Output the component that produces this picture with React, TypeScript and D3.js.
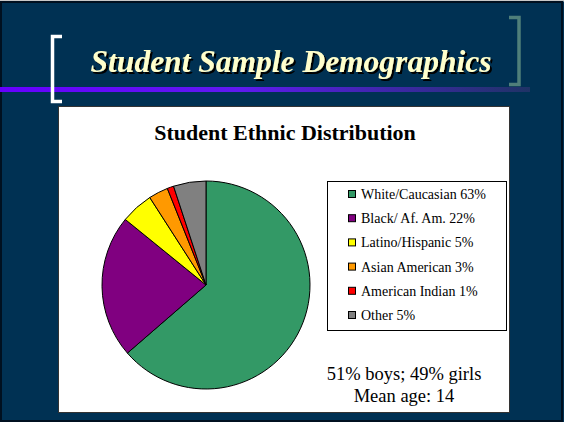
import { useMemo } from "react";
import * as d3 from "d3";

const width = 564;
const height = 422;

const categories = [
  "White/Caucasian",
  "Black/ Af. Am.",
  "Latino/Hispanic",
  "Asian American",
  "American Indian",
  "Other",
];
const values = [63, 22, 5, 3, 1, 5];
const colors = ["#339966", "#800080", "#FFFF00", "#FF9900", "#FF0000", "#808080"];
const notes = ["51% boys; 49% girls", "Mean age: 14"];

const pieCenter = { x: 206, y: 285 };
const radius = 104;
const legend = { x: 327, y: 181, w: 179, h: 149, rowH: 24.2 };
const serif = "'Liberation Serif', 'Times New Roman', serif";

const App = () => {
  const slices = useMemo(() => {
    const pie = d3
      .pie<number>()
      .sort(null)
      .value((d) => d);
    const arc = d3.arc<d3.PieArcDatum<number>>().innerRadius(0).outerRadius(radius);
    return pie(values).map((d, i) => ({ path: arc(d) as string, fill: colors[i] }));
  }, []);

  const rowY = d3
    .scaleLinear()
    .domain([0, categories.length - 1])
    .range([legend.y + 13, legend.y + 13 + legend.rowH * (categories.length - 1)]);

  return (
    <svg
      width={width}
      height={height}
      style={{ position: "absolute", left: 0, top: 0 }}
    >
      <defs>
        <linearGradient id="bar" x1="0" x2="1" y1="0" y2="0">
          <stop offset="0" stopColor="#6600FF" />
          <stop offset="0.45" stopColor="#5F1AF0" />
          <stop offset="1" stopColor="#1F3366" />
        </linearGradient>
        <filter id="shadow" x="-5%" y="-20%" width="110%" height="140%">
          <feDropShadow dx={2} dy={2} stdDeviation={0.4} floodColor="#000000" floodOpacity={1} />
        </filter>
      </defs>
      {/* slide background */}
      <rect x={0} y={0} width={width} height={height} fill="#003153" />
      <rect x={0} y={0} width={width} height={1.5} fill="#C8C8C8" />
      <rect x={1} y={2} width={width - 3} height={height - 3} fill="none" stroke="#001020" strokeWidth={2} />

      {/* purple rule */}
      <rect x={0} y={87} width={530} height={5} fill="url(#bar)" />

      {/* brackets */}
      <path d="M62,36.5 H52.5 V101.5 H62" fill="none" stroke="#FFFFFF" strokeWidth={3.5} />
      <path d="M509,17.5 H519 V84.5 H509" fill="none" stroke="#4F7F7A" strokeWidth={3.5} />

      {/* title */}
      <text
        x={291}
        y={72}
        fill="#FFFFCC"
        fontFamily={serif}
        fontStyle="italic"
        fontWeight="bold"
        fontSize={31.5}
        textAnchor="middle"
        filter="url(#shadow)"
      >
        Student Sample Demographics
      </text>

      {/* chart panel */}
      <rect x={58.5} y={106.5} width={451} height={306} fill="#FFFFFF" stroke="#333333" strokeWidth={1} />

      <text x={285} y={140} textAnchor="middle" fontFamily={serif} fontWeight="bold" fontSize={22}>
        Student Ethnic Distribution
      </text>

      <g transform={`translate(${pieCenter.x},${pieCenter.y})`}>
        {slices.map((s, i) => (
          <path key={i} d={s.path} fill={s.fill} stroke="#000000" strokeWidth={1} />
        ))}
      </g>

      {/* legend */}
      <rect x={legend.x + 0.5} y={legend.y + 0.5} width={legend.w} height={legend.h} fill="#FFFFFF" stroke="#000000" strokeWidth={1} />
      <g fontFamily={serif} fontSize={14}>
        {categories.map((c, i) => (
          <g key={c} transform={`translate(0,${rowY(i)})`}>
            <rect x={348.5} y={-3.5} width={7} height={7} fill={colors[i]} stroke="#000000" strokeWidth={1} />
            <text x={361} y={5} fill="#000000">
              {`${c} ${values[i]}%`}
            </text>
          </g>
        ))}
      </g>

      <g fontFamily={serif} fontSize={18.5} textAnchor="middle">
        {notes.map((n, i) => (
          <text key={n} x={404} y={380 + i * 22}>
            {n}
          </text>
        ))}
      </g>
    </svg>
  );
};

export default App;
